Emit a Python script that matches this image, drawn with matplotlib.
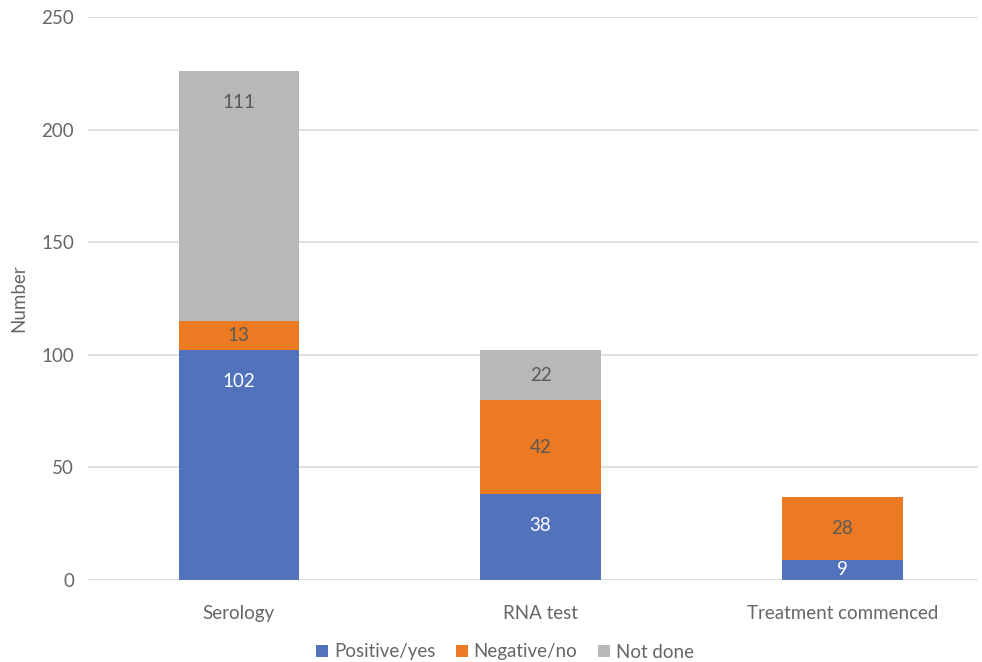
import numpy as np
import matplotlib
matplotlib.use("Agg")
import matplotlib.pyplot as plt

plt.rcParams['font.family'] = ['Lato', 'DejaVu Sans']

categories = ["Serology", "RNA test", "Treatment commenced"]
positive = [102, 38, 9]
negative = [13, 42, 28]
not_done = [111, 22, 0]

series = [
    ("Positive/yes", positive, "#5273BC", "white"),
    ("Negative/no", negative, "#EC7A22", "#595959"),
    ("Not done", not_done, "#B8B8B8", "#595959"),
]

text_color = "#666666"
fs = 13.5

fig = plt.figure(figsize=(9.82, 6.62), dpi=100)
ax = fig.add_axes([88 / 982, 1 - 580 / 662, (978 - 88) / 982, (580 - 17) / 662])

x = np.arange(len(categories))
bottom = np.zeros(len(categories))
handles = []
for name, vals, color, lab_color in series:
    vals = np.array(vals, dtype=float)
    bars = ax.bar(x, vals, width=0.4, bottom=bottom, color=color, label=name, zorder=2)
    handles.append(bars)
    for xi, b, v in zip(x, bottom, vals):
        if v > 0:
            # labels sit near the top of tall segments, centred otherwise
            y = b + v / 2 if name == "Negative/no" else max(b + v / 2, b + v - 14)
            ax.text(xi, y, f"{int(v)}", ha='center', va='center',
                    color=lab_color, fontsize=fs, zorder=3)
    bottom += vals

ax.set_ylim(0, 250)
ax.set_xlim(-0.5, 2.45)
ax.set_yticks(np.arange(0, 251, 50))
ax.yaxis.grid(True, color="#D9D9D9", lw=1.2, zorder=0)
for s in ax.spines.values():
    s.set_visible(False)
ax.tick_params(axis='both', length=0, colors=text_color, labelsize=fs)
ax.tick_params(axis='y', pad=10)
ax.tick_params(axis='x', pad=18)
ax.set_xticks(x)
ax.set_xticklabels(categories)
ax.set_ylabel("Number", color=text_color, fontsize=fs, labelpad=10)

fig.legend(handles=handles, labels=[s[0] for s in series], loc='center',
           bbox_to_anchor=(505 / 982, 1 - 652 / 662), ncol=3, frameon=False,
           fontsize=fs, handlelength=0.65, handleheight=0.65, handletextpad=0.3,
           columnspacing=1.1, labelcolor=text_color)

fig.savefig("out.png", dpi=100)
